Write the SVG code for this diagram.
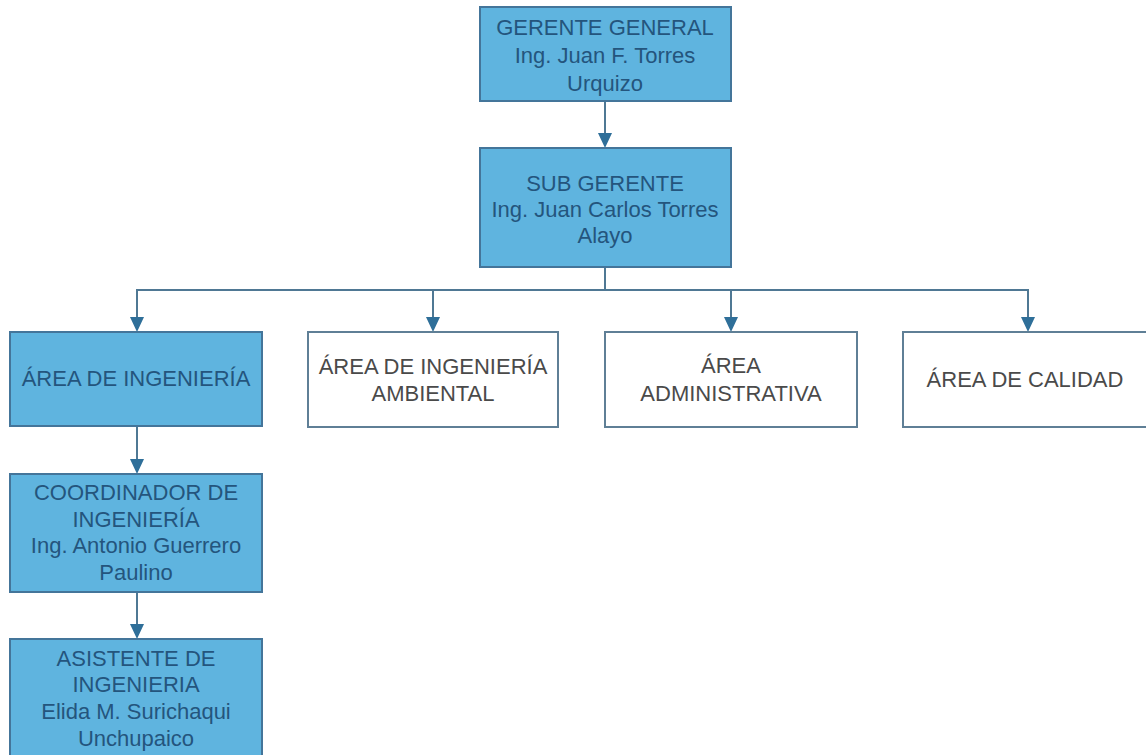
<svg xmlns="http://www.w3.org/2000/svg" width="1146" height="755" viewBox="0 0 1146 755">
<style>
.fill{fill:#5fb4df;stroke:#44759a;stroke-width:2}
.plain{fill:#ffffff;stroke:#5f7f96;stroke-width:2}
.t{font-family:"Liberation Sans",Arial,sans-serif;font-size:22px;text-anchor:middle}
.tb{fill:#24557d}
.tg{fill:#4a4a4a}
.c{fill:none;stroke:#4f7894;stroke-width:2}
.ah{fill:#2f6f99}
</style>
<rect width="1146" height="755" fill="#ffffff"/>
<g id="connectors">
<line class="c" x1="605" y1="101" x2="605" y2="140"/>
<line class="c" x1="605" y1="267" x2="605" y2="290"/>
<polyline class="c" points="137,325 137,290 1028,290 1028,325"/>
<line class="c" x1="433" y1="290" x2="433" y2="325"/>
<line class="c" x1="731" y1="290" x2="731" y2="325"/>
<line class="c" x1="137" y1="426" x2="137" y2="466"/>
<line class="c" x1="137" y1="592" x2="137" y2="631"/>
<path class="ah" d="M598,133 L612,133 L605,148 Z"/>
<path class="ah" d="M130,317 L144,317 L137,332 Z"/>
<path class="ah" d="M426,317 L440,317 L433,332 Z"/>
<path class="ah" d="M724,317 L738,317 L731,332 Z"/>
<path class="ah" d="M1021,317 L1035,317 L1028,332 Z"/>
<path class="ah" d="M130,459 L144,459 L137,474 Z"/>
<path class="ah" d="M130,624 L144,624 L137,639 Z"/>
</g>
<g id="gerente">
<rect class="fill" x="480" y="7" width="251" height="94"/>
<text class="t tb" x="605" y="35">GERENTE GENERAL</text>
<text class="t tb" x="605" y="63">Ing. Juan F. Torres</text>
<text class="t tb" x="605" y="91">Urquizo</text>
</g>
<g id="subgerente">
<rect class="fill" x="480" y="148" width="251" height="119"/>
<text class="t tb" x="605" y="191">SUB GERENTE</text>
<text class="t tb" x="605" y="217">Ing. Juan Carlos Torres</text>
<text class="t tb" x="605" y="243">Alayo</text>
</g>
<g id="area-ingenieria">
<rect class="fill" x="10" y="332" width="252" height="94"/>
<text class="t tb" x="136" y="386">ÁREA DE INGENIERÍA</text>
</g>
<g id="area-ambiental">
<rect class="plain" x="308" y="332" width="250" height="95"/>
<text class="t tg" x="433" y="374">ÁREA DE INGENIERÍA</text>
<text class="t tg" x="433" y="401">AMBIENTAL</text>
</g>
<g id="area-administrativa">
<rect class="plain" x="605" y="332" width="252" height="95"/>
<text class="t tg" x="731" y="373">ÁREA</text>
<text class="t tg" x="731" y="401">ADMINISTRATIVA</text>
</g>
<g id="area-calidad">
<rect class="plain" x="903" y="332" width="251" height="95"/>
<text class="t tg" x="1025" y="387">ÁREA DE CALIDAD</text>
</g>
<g id="coordinador">
<rect class="fill" x="10" y="474" width="252" height="118"/>
<text class="t tb" x="136" y="500">COORDINADOR DE</text>
<text class="t tb" x="136" y="527">INGENIERÍA</text>
<text class="t tb" x="136" y="553">Ing. Antonio Guerrero</text>
<text class="t tb" x="136" y="580">Paulino</text>
</g>
<g id="asistente">
<rect class="fill" x="10" y="639" width="252" height="125"/>
<text class="t tb" x="136" y="666">ASISTENTE DE</text>
<text class="t tb" x="136" y="692">INGENIERIA</text>
<text class="t tb" x="136" y="719">Elida M. Surichaqui</text>
<text class="t tb" x="136" y="746">Unchupaico</text>
</g>
</svg>
